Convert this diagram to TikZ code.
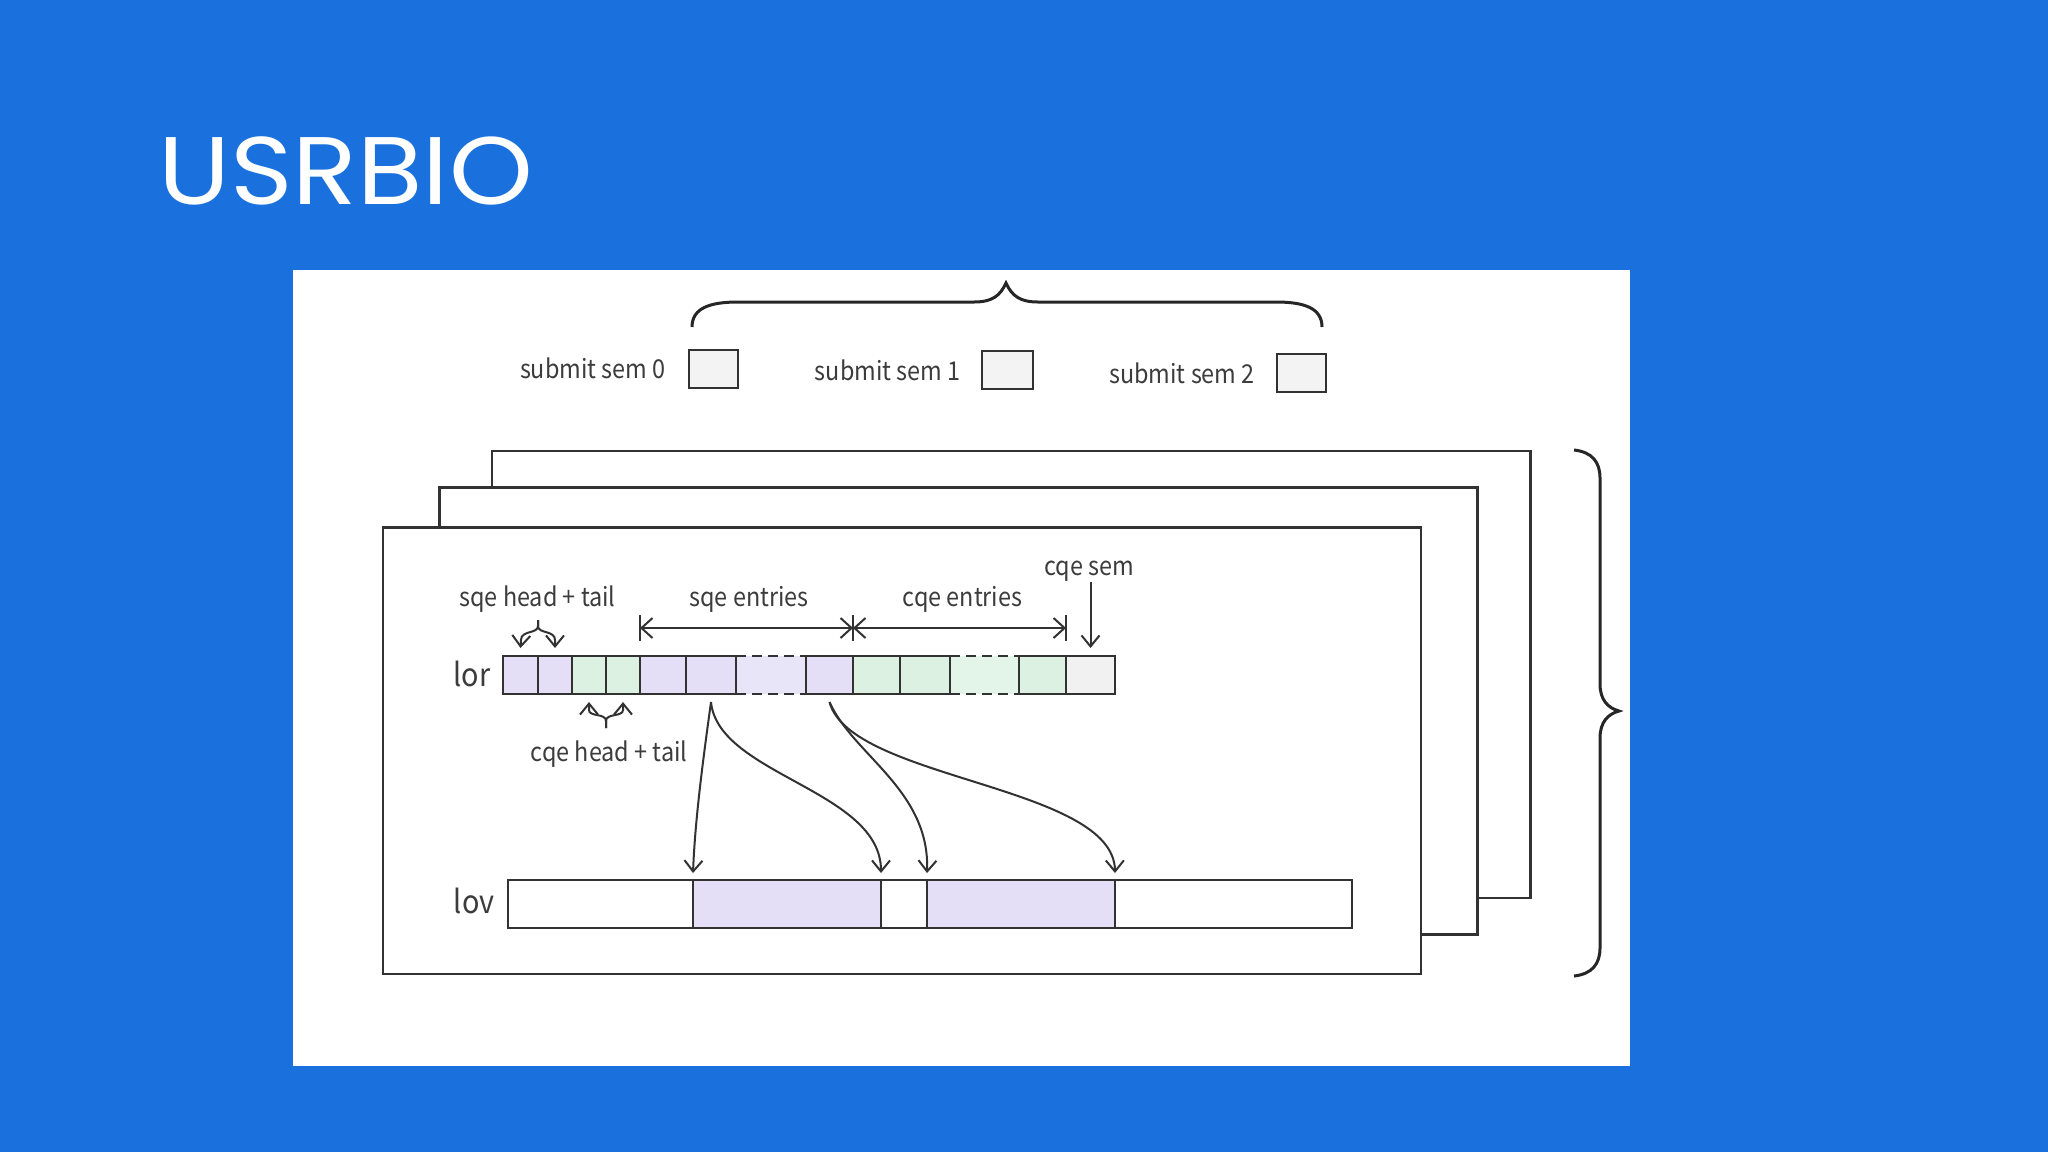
\documentclass[tikz,border=0pt]{standalone}
\usepackage{fontspec}
\setmainfont{Noto Sans CJK SC}[FakeStretch=0.9]
\newfontfamily\titlefont{Poppins}[FakeStretch=1.11]
\usetikzlibrary{arrows.meta}
\definecolor{bg}{RGB}{26,113,221}
\definecolor{ln}{RGB}{50,50,50}
\definecolor{txt}{RGB}{60,60,60}
\definecolor{pur}{RGB}{228,223,247}
\definecolor{purl}{RGB}{233,229,249}
\definecolor{grn}{RGB}{221,241,227}
\definecolor{grnl}{RGB}{227,244,232}
\definecolor{gry}{RGB}{241,241,241}
\definecolor{semfill}{RGB}{243,243,243}
\begin{document}
\begin{tikzpicture}[x=0.5pt,y=-0.5pt,
  lbl/.style={font=\fontsize{13}{15}\selectfont, text=txt, inner sep=0pt, anchor=base},
  biglbl/.style={font=\fontsize{16}{18}\selectfont, text=txt, inner sep=0pt, anchor=base},
  frame/.style={draw=ln, line width=1.3pt, fill=white},
  cell/.style={draw=ln, line width=1.1pt, minimum height=19pt, inner sep=0pt, outer sep=0pt},
  dcell/.style={minimum height=19pt, inner sep=0pt, outer sep=0pt},
  vcell/.style={draw=ln, line width=1.1pt, minimum height=24pt, inner sep=0pt, outer sep=0pt},
  sembox/.style={draw=ln, line width=1pt, fill=semfill, minimum height=19pt, inner sep=0pt},
  arr/.style={draw=ln, line width=1pt, -{Straight Barb[length=5.5pt,width=9pt,line width=1pt]}},
  dimarr/.style={draw=ln, line width=1pt, {Straight Barb[length=5.5pt,width=10pt,line width=1pt]}-{Straight Barb[length=5.5pt,width=10pt,line width=1pt]}},
  thin/.style={draw=ln, line width=1pt},
  brace/.style={draw=black!85, line width=1.5pt},
  dline/.style={draw=ln, line width=1.1pt, dash pattern=on 5pt off 3pt}
]
\useasboundingbox (0,0) rectangle (2048,1152);
\fill[bg] (0,0) rectangle (2048,1152);
\fill[white] (292.6,270.4) rectangle (1630,1065.8);

% title
\node[anchor=base west, inner sep=0pt, text=white, font=\titlefont\fontsize{48}{56}\selectfont] (title) at (158,204) {USRBIO};

% top brace
\draw[brace] (692,327) .. controls (692,308) and (710,302) .. (738,302) -- (974,302)
  .. controls (992,302) and (1000,296) .. (1006,283)
  .. controls (1012,296) and (1020,302) .. (1038,302) -- (1276,302)
  .. controls (1304,302) and (1322,308) .. (1322,327);

% submit sems
\node[lbl] (s0) at (592.8,378) {submit sem 0};
\node[lbl] (s1) at (887.7,380) {submit sem 1};
\node[lbl] (s2) at (1182,383) {submit sem 2};
\node[sembox, minimum width=24.5pt] (b0) at (713.7,369.2) {};
\node[sembox, minimum width=25.2pt] (b1) at (1007.5,369.5) {};
\node[sembox, minimum width=24.6pt] (b2) at (1301.5,372.9) {};

% stacked frames
\draw[frame] (492,451) rectangle (1530.7,898);
\draw[frame] (439.5,487.5) rectangle (1477.7,934.3);
\draw[frame] (382.8,527.7) rectangle (1421,973.9);

% right brace
\draw[brace] (1574,450) .. controls (1592,452) and (1600,462) .. (1600,478) -- (1600,684)
  .. controls (1600,700) and (1608,708) .. (1619,711)
  .. controls (1608,714) and (1600,722) .. (1600,738) -- (1600,948)
  .. controls (1600,964) and (1592,974) .. (1574,976);

% lor array
\node[dcell, fill=purl, minimum width=35pt] (d1) at (771,675) {};
\node[dcell, fill=grnl, minimum width=34.5pt] (d2) at (984.5,675) {};
\draw[dline] (d1.north west) -- (d1.north east);
\draw[dline] (d1.south west) -- (d1.south east);
\draw[dline] (d2.north west) -- (d2.north east);
\draw[dline] (d2.south west) -- (d2.south east);
\node[cell, fill=pur, minimum width=17.5pt] (c1) at (520.5,675) {};
\node[cell, fill=pur, minimum width=17pt] (c2) at (555,675) {};
\node[cell, fill=grn, minimum width=17pt] (c3) at (589,675) {};
\node[cell, fill=grn, minimum width=17pt] (c4) at (623,675) {};
\node[cell, fill=pur, minimum width=23pt] (c5) at (663,675) {};
\node[cell, fill=pur, minimum width=25pt] (c6) at (711,675) {};
\node[cell, fill=pur, minimum width=23.5pt] (c7) at (829.5,675) {};
\node[cell, fill=grn, minimum width=23.5pt] (c8) at (876.5,675) {};
\node[cell, fill=grn, minimum width=25pt] (c9) at (925,675) {};
\node[cell, fill=grn, minimum width=23.5pt] (c10) at (1042.5,675) {};
\node[cell, fill=gry, minimum width=24.5pt] (c11) at (1090.5,675) {};
\node[biglbl] (lor) at (471.8,686.7) {lor};

% lov array
\node[vcell, fill=white, minimum width=92.5pt] (v1) at (600.5,904) {};
\node[vcell, fill=pur, minimum width=94pt] (v2) at (787,904) {};
\node[vcell, fill=white, minimum width=23pt] (v3) at (904,904) {};
\node[vcell, fill=pur, minimum width=94pt] (v4) at (1021,904) {};
\node[vcell, fill=white, minimum width=118.5pt] (v5) at (1233.5,904) {};
\node[biglbl] (lov) at (474.2,913) {lov};

% labels above lor
\node[lbl] (sht) at (537.5,606.7) {sqe head + tail};
\node[lbl] (sqe) at (749,606.7) {sqe entries};
\node[lbl] (cqe) at (962.5,606.7) {cqe entries};
\node[lbl] (csem) at (1089,575) {cqe sem};
\node[lbl] (cht) at (609,761.7) {cqe head + tail};

% sqe head + tail fork
\coordinate (sqf) at (538,620);
\draw[arr] (sqf) -- (538,626) .. controls (538,634) and (521,630) .. (521,640) -- ([yshift=4pt]c1.north);
\draw[arr] (sqf) -- (538,626) .. controls (538,634) and (555,630) .. (555,640) -- ([yshift=4pt]c2.north);

% cqe head + tail fork
\coordinate (cqf) at (606,728);
\draw[arr] (cqf) -- (606,721) .. controls (606,713) and (589,717) .. (589,710) -- ([yshift=-4pt]c3.south);
\draw[arr] (cqf) -- (606,721) .. controls (606,713) and (623,717) .. (623,710) -- ([yshift=-4pt]c4.south);

% dimension arrows
\coordinate (dimL) at ([yshift=14pt]c5.north west);
\coordinate (dimM) at ([yshift=14pt]c8.north west);
\coordinate (dimR) at ([yshift=14pt]c11.north west);
\draw[dimarr] (dimL) -- (dimM);
\draw[dimarr] (dimM) -- (dimR);
\draw[thin] ([yshift=6.5pt]dimL) -- ([yshift=-6.5pt]dimL);
\draw[thin] ([yshift=6.5pt]dimM) -- ([yshift=-6.5pt]dimM);
\draw[thin] ([yshift=6.5pt]dimR) -- ([yshift=-6.5pt]dimR);

% cqe sem arrow
\coordinate (csemtop) at (1090.5,582);
\draw[arr] (csemtop) -- ([yshift=4pt]c11.north);

% lor -> lov arrows
\draw[arr] ([yshift=-4pt]c6.south) .. controls (703,760) and (695,820) .. ([yshift=3.5pt]v2.north west);
\draw[arr] ([yshift=-4pt]c6.south) .. controls (718,775) and (881,790) .. ([yshift=3.5pt]v2.north east);
\draw[arr] ([yshift=-4pt]c7.south) .. controls (853,755) and (930,790) .. ([yshift=3.5pt]v4.north west);
\draw[arr] ([yshift=-4pt]c7.south) .. controls (850,780) and (1114,785) .. ([yshift=3.5pt]v4.north east);
\end{tikzpicture}
\end{document}
